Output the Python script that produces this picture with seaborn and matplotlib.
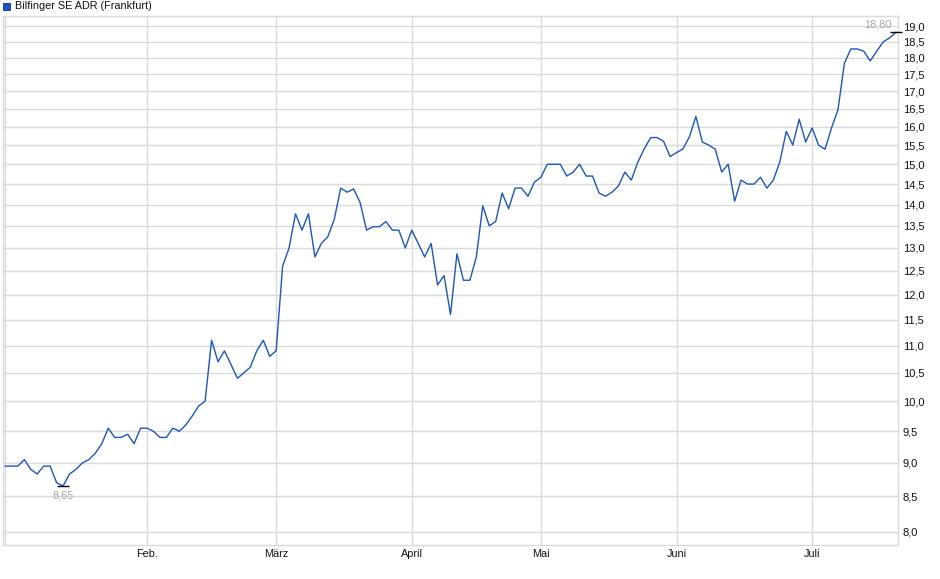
import numpy as np
import pandas as pd
import matplotlib
matplotlib.use('Agg')
import matplotlib.pyplot as plt
import matplotlib.ticker as mticker
from matplotlib.patches import Rectangle
import seaborn as sns

# data: daily closes (trading days, Jan 2 - Jul 18 2025)
title = 'Bilfinger SE ADR (Frankfurt)'
start_date = '2025-01-02'
end_date = '2025-07-18'
holidays = ['2025-04-18', '2025-04-21', '2025-05-01']
month_labels = {2: 'Feb.', 3: 'März', 4: 'April', 5: 'Mai', 6: 'Juni', 7: 'Juli'}
prices = [
    8.95, 8.95, 8.95, 9.05, 8.90, 8.83, 8.95, 8.95, 8.70, 8.65,
    8.83, 8.90, 9.00, 9.05, 9.15, 9.30, 9.55, 9.40, 9.40, 9.45,
    9.30, 9.55, 9.55, 9.50, 9.40, 9.40, 9.55, 9.50, 9.60, 9.75,
    9.92, 10.00, 11.10, 10.70, 10.90, 10.65, 10.40, 10.50, 10.60, 10.90,
    11.10, 10.80, 10.90, 12.60, 13.00, 13.78, 13.40, 13.78, 12.80, 13.10,
    13.25, 13.65, 14.40, 14.30, 14.38, 14.05, 13.40, 13.48, 13.48, 13.60,
    13.40, 13.40, 13.00, 13.40, 13.10, 12.80, 13.10, 12.20, 12.40, 11.60,
    12.87, 12.30, 12.30, 12.80, 13.97, 13.50, 13.60, 14.28, 13.90, 14.40,
    14.40, 14.20, 14.55, 14.67, 15.00, 15.00, 15.00, 14.70, 14.80, 15.00,
    14.70, 14.70, 14.28, 14.20, 14.30, 14.45, 14.80, 14.60, 15.05, 15.40,
    15.70, 15.70, 15.60, 15.20, 15.30, 15.40, 15.72, 16.28, 15.58, 15.50,
    15.39, 14.80, 15.00, 14.08, 14.60, 14.50, 14.50, 14.67, 14.40, 14.60,
    15.06, 15.87, 15.50, 16.20, 15.58, 15.96, 15.50, 15.39, 15.96, 16.46,
    17.83, 18.27, 18.27, 18.20, 17.90, 18.20, 18.49, 18.62, 18.80,
]
y_ticks = np.arange(8.0, 19.01, 0.5)

dates = pd.bdate_range(start_date, end_date)
dates = dates[~dates.isin(pd.to_datetime(holidays))]
df = pd.DataFrame({'date': dates[:len(prices)], 'price': prices})
df['pos'] = np.arange(len(df))

month_pos = [df.loc[df['date'].dt.month == m, 'pos'].iloc[0] for m in month_labels]

def de(v, nd):
    return f'{v:.{nd}f}'.replace('.', ',')

sns.set_style('white')
plt.rcParams['font.family'] = ['Liberation Sans', 'DejaVu Sans']

W, H = 940, 579
fig = plt.figure(figsize=(W / 100, H / 100), dpi=100)
ax = fig.add_axes([3 / W, (H - 545) / H, (898 - 3) / W, (545 - 16) / H])

grid_c = '#dadada'
sns.lineplot(data=df, x='pos', y='price', color='#1b56c0', linewidth=1.0, ax=ax, zorder=3)

ax.set_yscale('log')
ax.set_ylim(7.82, 19.33)
ax.set_xlim(-0.3, len(df) - 1 + 0.3)
ax.yaxis.set_major_locator(mticker.FixedLocator(y_ticks))
ax.yaxis.set_minor_locator(mticker.NullLocator())
ax.yaxis.set_major_formatter(mticker.FuncFormatter(lambda v, p: de(v, 1)))
ax.set_xticks(month_pos)
ax.set_xticklabels(list(month_labels.values()))
ax.yaxis.tick_right()
ax.tick_params(axis='y', length=0, pad=3.5, labelsize=8, labelcolor='#111111')
ax.tick_params(axis='x', length=0, pad=3, labelsize=7.8, labelcolor='#111111')
ax.grid(True, color=grid_c, linewidth=1.0)
ax.axvline(0, color=grid_c, linewidth=1.0, zorder=1)
ax.set_xlabel('')
ax.set_ylabel('')
for s in ax.spines.values():
    s.set_color(grid_c)
    s.set_linewidth(1.0)

# low / last markers
imin = int(df['price'].idxmin())
pmin = df['price'].iloc[imin]
ax.plot(imin, pmin, marker='_', ms=9, mew=1.0, color='black', zorder=4)
ax.annotate(de(pmin, 2), (imin, pmin), xytext=(0, -3), textcoords='offset points',
            ha='center', va='top', fontsize=7.8, color='#a8a8a8')
ilast = len(df) - 1
plast = df['price'].iloc[ilast]
ax.plot(ilast, plast, marker='_', ms=9, mew=1.0, color='black', zorder=4, clip_on=False)
ax.annotate(de(plast, 2), (ilast, plast), xytext=(-3, 2), textcoords='offset points',
            ha='right', va='bottom', fontsize=7.8, color='#a8a8a8')

# legend-like title
fig.add_artist(Rectangle((3 / W, (H - 10) / H), 7 / W, 7 / H, transform=fig.transFigure,
                         facecolor='#1b56c0', edgecolor='#0d2f70', linewidth=0.6))
fig.text(15 / W, (H - 6) / H, title, ha='left', va='center', fontsize=7.8, color='#111111')

fig.savefig('out.png', dpi=100)
